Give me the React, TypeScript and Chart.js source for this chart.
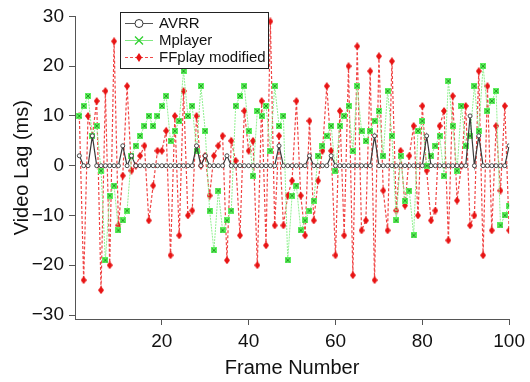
import React, { useEffect, useRef } from "react";
import { Chart, registerables } from "chart.js";

Chart.register(...registerables);

const frames: number[] = Array.from({ length: 100 }, (_, i) => i + 1);

const seriesNames = ["AVRR", "Mplayer", "FFplay modified"];

const avrr = [
  2, 0, 0, 6, 0, 0, 0, 0, 0, 0,
  4, 0, 2, 0, 0, 0, 0, 0, 0, 0,
  0, 0, 0, 0, 0, 0, 0, 4, 0, 2,
  0, 0, 0, 0, 2, 0, 0, 0, 0, 0,
  0, 0, 0, 0, 0, 0, 4, 0, 0, 0,
  0, 0, 0, 2, 0, 0, 0, 0, 2, 0,
  0, 0, 0, 0, 0, 0, 0, 0, 6, 0,
  0, 0, 0, 0, 0, 0, 0, 0, 0, 0,
  6, 0, 0, 0, 0, 0, 0, 0, 0, 0,
  10, 0, 6, 0, 0, 0, 0, 0, 0, 4,
];

const mplayer = [
  10, 12, 14, 6, 8, -1, -19, -6, -4, -13,
  -11, -9, 2, 4, 6, 8, 10, 8, 10, 12,
  14, 5, 7, 9, 19, 10, 12, 3, 16, 7,
  -9, -17, -5, -13, -11, -9, 12, 14, 16, 7,
  -2, 11, 10, 12, 3, 16, 8, 10, -19, -6,
  -4, -13, -11, -9, -7, 2, 4, 6, 8, -1,
  8, 10, 12, 3, 16, 7, 5, 7, 9, 11,
  2, 15, 6, -11, 2, -7, -5, -14, 7, 9,
  0, 2, 4, 6, -2, 17, 8, -1, 12, 4,
  6, 16, 7, 20, 11, 13, 15, -12, -10, -8,
];

const ffplay = [
  10, -23, 10, 6, 13, -25, 15, -20, 25, -12,
  -2, 16, -1, 0, 2, 4, -11, -4, 3, 3,
  7, -18, 10, -14, 15, -10, -9, 10, 0, 2,
  -6, 2, 4, 6, -19, 5, 1, -14, 11, 3,
  5, -20, 13, -16, 29, -12, 6, -12, -6, -3,
  13, -6, -14, 9, -11, -3, 3, 16, 3, -18,
  11, -14, 20, -22, 24, -13, -11, 19, -23, 22,
  -5, -13, 21, -9, 3, -8, 2, 8, -10, 12,
  -1, -11, -9, 8, 11, -15, 14, -7, 0, 12,
  -12, -10, 19, -18, 16, -13, 8, -5, 12, -13,
];

const xTicks = [20, 40, 60, 80, 100];
const yTicks = [-30, -20, -10, 0, 10, 20, 30];

const FONT = "'Liberation Sans', Arial, Helvetica, sans-serif";

function makeGreenMarker(): HTMLCanvasElement {
  const c = document.createElement("canvas");
  c.width = 6;
  c.height = 6;
  const g = c.getContext("2d")!;
  g.fillStyle = "#5cf05c";
  g.fillRect(0, 0, 6, 6);
  g.strokeStyle = "#239a23";
  g.lineWidth = 1;
  g.beginPath();
  g.moveTo(1, 1);
  g.lineTo(5, 5);
  g.moveTo(5, 1);
  g.lineTo(1, 5);
  g.stroke();
  return c;
}

function makeRedMarker(): HTMLCanvasElement {
  const c = document.createElement("canvas");
  c.width = 6;
  c.height = 8;
  const g = c.getContext("2d")!;
  g.fillStyle = "#e81414";
  g.beginPath();
  g.moveTo(3, 0);
  g.lineTo(6, 4);
  g.lineTo(3, 8);
  g.lineTo(0, 4);
  g.closePath();
  g.fill();
  return c;
}

const legendPlugin = {
  id: "boxLegend",
  afterDatasetsDraw(chart: any) {
    const ctx = chart.ctx as CanvasRenderingContext2D;
    const x0 = 120;
    const y0 = 12;
    const w = 148;
    const h = 56;
    ctx.save();
    ctx.fillStyle = "#ffffff";
    ctx.fillRect(x0, y0, w, h);
    ctx.strokeStyle = "#222";
    ctx.lineWidth = 1;
    ctx.strokeRect(x0 + 0.5, y0 + 0.5, w, h);
    const rows = [23, 40, 57];
    const lx0 = 125;
    const lx1 = 153;
    const mx = 139;
    chart.data.datasets.forEach((ds: any, i: number) => {
      const y = rows[i];
      ctx.save();
      ctx.strokeStyle = i === 0 ? "#555" : i === 1 ? "#80e880" : "#f04a4a";
      ctx.lineWidth = 1;
      ctx.setLineDash(i === 2 ? [3, 2] : []);
      ctx.beginPath();
      ctx.moveTo(lx0, y + 0.5);
      ctx.lineTo(lx1, y + 0.5);
      ctx.stroke();
      ctx.setLineDash([]);
      if (i === 0) {
        ctx.fillStyle = "#fff";
        ctx.strokeStyle = "#333";
        ctx.beginPath();
        ctx.arc(mx, y + 0.5, 4, 0, Math.PI * 2);
        ctx.fill();
        ctx.stroke();
      } else if (i === 1) {
        ctx.strokeStyle = "#2ed02e";
        ctx.lineWidth = 1.3;
        ctx.beginPath();
        ctx.moveTo(mx - 4, y - 3.5);
        ctx.lineTo(mx + 4, y + 4.5);
        ctx.moveTo(mx + 4, y - 3.5);
        ctx.lineTo(mx - 4, y + 4.5);
        ctx.stroke();
      } else {
        ctx.fillStyle = "#e81414";
        ctx.beginPath();
        ctx.moveTo(mx, y - 4);
        ctx.lineTo(mx + 3, y + 0.5);
        ctx.lineTo(mx, y + 5);
        ctx.lineTo(mx - 3, y + 0.5);
        ctx.closePath();
        ctx.fill();
      }
      ctx.restore();
      ctx.fillStyle = "#111";
      ctx.font = `15px ${FONT}`;
      ctx.textBaseline = "middle";
      ctx.textAlign = "left";
      ctx.fillText(ds.label, 159, y + 1);
    });
    ctx.restore();
  },
};

export default function App() {
  const ref = useRef<HTMLCanvasElement | null>(null);

  useEffect(() => {
    document.body.style.margin = "0";
    const canvas = ref.current!;
    const greenMarker = makeGreenMarker();
    const redMarker = makeRedMarker();
    const toPts = (arr: number[]) => arr.map((v, i) => ({ x: frames[i], y: v }));

    const chart = new Chart(canvas, {
      type: "line",
      data: {
        datasets: [
          {
            label: seriesNames[0],
            data: toPts(avrr),
            borderColor: "#3a3a3a",
            borderWidth: 1.2,
            pointStyle: "circle",
            pointRadius: 2,
            pointBorderWidth: 1,
            pointBorderColor: "#444",
            pointBackgroundColor: "#ffffff",
            tension: 0,
          },
          {
            label: seriesNames[1],
            data: toPts(mplayer),
            borderColor: "#90f090",
            borderWidth: 1,
            borderDash: [2, 1],
            pointStyle: greenMarker as any,
            pointRadius: 3,
            tension: 0,
          },
          {
            label: seriesNames[2],
            data: toPts(ffplay),
            borderColor: "#f04444",
            borderWidth: 1.2,
            borderDash: [3, 2],
            pointStyle: redMarker as any,
            pointRadius: 3,
            tension: 0,
          },
        ],
      },
      options: {
        responsive: false,
        animation: false,
        devicePixelRatio: 1,
        layout: { padding: { top: 15, right: 17, left: 0, bottom: 0 } },
        plugins: {
          legend: { display: false },
          tooltip: { enabled: false },
        },
        scales: {
          x: {
            type: "linear",
            min: 0,
            max: 100,
            afterBuildTicks: (scale: any) => {
              scale.ticks = xTicks.map((v) => ({ value: v }));
            },
            afterFit: (scale: any) => {
              scale.height = 63;
            },
            border: { display: true, color: "#555", width: 1 },
            grid: {
              drawOnChartArea: false,
              drawTicks: true,
              tickLength: 6,
              tickColor: "#555",
            },
            ticks: {
              color: "#111",
              font: { family: FONT, size: 19 },
              padding: 5,
              maxRotation: 0,
              autoSkip: false,
            },
            title: {
              display: true,
              text: "Frame Number",
              color: "#111",
              font: { family: FONT, size: 20 },
              padding: { top: 0, bottom: 2 },
            },
          },
          y: {
            type: "linear",
            min: -30.8,
            max: 30,
            afterBuildTicks: (scale: any) => {
              scale.ticks = yTicks.map((v) => ({ value: v }));
            },
            afterFit: (scale: any) => {
              scale.width = 75;
            },
            border: { display: true, color: "#555", width: 1 },
            grid: {
              drawOnChartArea: false,
              drawTicks: true,
              tickLength: 6,
              tickColor: "#555",
            },
            ticks: {
              color: "#111",
              font: { family: FONT, size: 19 },
              padding: 5,
              autoSkip: false,
              callback: (v: any) => String(v).replace("-", "\u2212"),
            },
            title: {
              display: true,
              text: "Video Lag (ms)",
              color: "#111",
              font: { family: FONT, size: 20 },
              padding: { top: 10, bottom: 0 },
            },
          },
        },
      },
      plugins: [legendPlugin],
    });
    return () => chart.destroy();
  }, []);

  return (
    <div style={{ width: 530, height: 382 }}>
      <canvas ref={ref} width={530} height={382} />
    </div>
  );
}
